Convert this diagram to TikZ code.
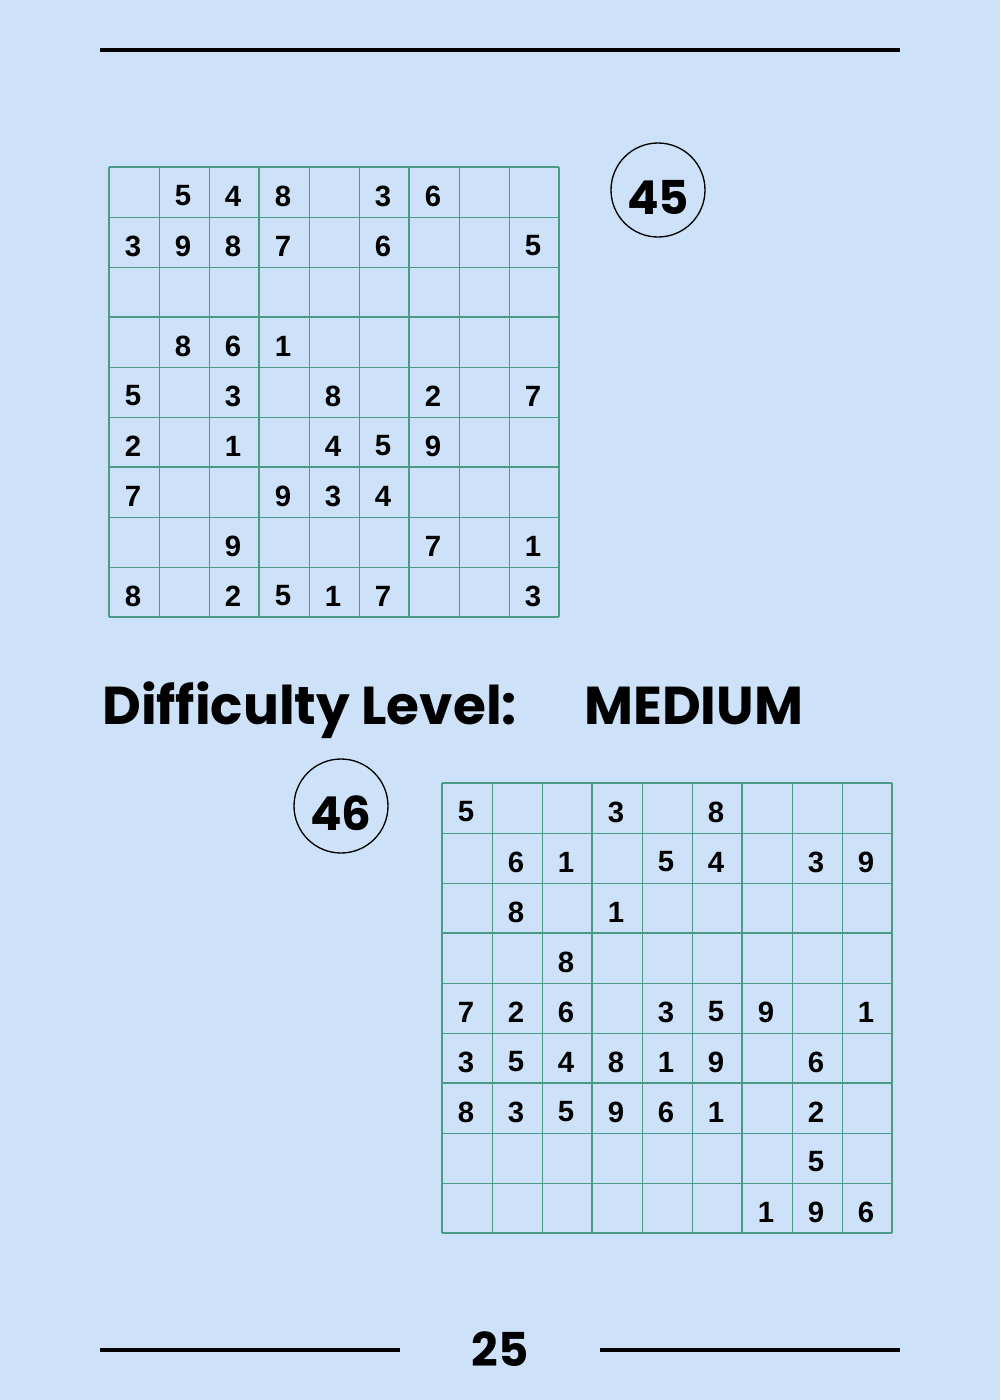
\documentclass[tikz,border=0pt]{standalone}
\usepackage{fontspec}
\newfontfamily\titlefont{Poppins}
\newfontfamily\digitfont{Liberation Sans}
\definecolor{bg}{RGB}{205,226,248}
\definecolor{gridc}{RGB}{76,154,138}
\tikzset{
  rule/.style={line width=3pt, black},
  thinline/.style={gridc, line width=0.75pt},
  thickline/.style={gridc, line width=1.5pt},
  digit/.style={inner sep=0pt, font=\digitfont\bfseries\fontsize{22}{22}\selectfont},
  numcircle/.style={draw, circle, line width=1pt, minimum size=70.5pt, inner sep=0pt},
  bignum/.style={inner sep=0pt, font=\titlefont\bfseries\fontsize{35}{35}\selectfont},
  title/.style={inner sep=0pt, anchor=base west, font=\titlefont\bfseries\fontsize{40}{40}\selectfont}
}
\newcommand\drawsudoku[4]{%
  \foreach \i in {0,...,9} {
    \pgfmathtruncatemacro\m{mod(\i,3)}
    \ifnum\m=0
      \draw[thickline] (#2+50*\i,#3) -- (#2+50*\i,#3+450);
      \draw[thickline] (#2,#3+50*\i) -- (#2+450,#3+50*\i);
    \else
      \draw[thinline] (#2+50*\i,#3) -- (#2+50*\i,#3+450);
      \draw[thinline] (#2,#3+50*\i) -- (#2+450,#3+50*\i);
    \fi
  }
  \foreach \rowdata [count=\r] in {#4} {
    \foreach \v [count=\c] in \rowdata {
      \ifnum\v>0
        \node[digit] (#1-\r-\c) at (#2+50*\c-26,#3+50*\r-21) {\v};
      \fi
    }
  }
}
\begin{document}
\begin{tikzpicture}[x=0.75pt,y=-0.75pt]
\fill[bg] (0,0) rectangle (1000,1400);
\useasboundingbox (0,0) rectangle (1000,1400);
% rules
\coordinate (ta) at (100,50); \coordinate (tb) at (900,50);
\draw[rule] (ta) -- (tb);
\coordinate (la) at (100,1350); \coordinate (lb) at (400,1350);
\coordinate (ra) at (600,1350); \coordinate (rb) at (900,1350);
\draw[rule] (la) -- (lb);
\draw[rule] (ra) -- (rb);
\node[bignum] (page) at (500,1349) {25};
% puzzle 45
\drawsudoku{a}{109}{167}{{0,5,4,8,0,3,6,0,0},{3,9,8,7,0,6,0,0,5},{0,0,0,0,0,0,0,0,0},{0,8,6,1,0,0,0,0,0},{5,0,3,0,8,0,2,0,7},{2,0,1,0,4,5,9,0,0},{7,0,0,9,3,4,0,0,0},{0,0,9,0,0,0,7,0,1},{8,0,2,5,1,7,0,0,3}}
\node[numcircle] (c45) at (658,190) {};
\node[bignum] (n45) at (658,197) {45};
% title
\node[title] (diff) at (102,724) {Difficulty Level:};
\node[title] (med) at (584,724) {MEDIUM};
% puzzle 46
\drawsudoku{b}{442}{783}{{5,0,0,3,0,8,0,0,0},{0,6,1,0,5,4,0,3,9},{0,8,0,1,0,0,0,0,0},{0,0,8,0,0,0,0,0,0},{7,2,6,0,3,5,9,0,1},{3,5,4,8,1,9,0,6,0},{8,3,5,9,6,1,0,2,0},{0,0,0,0,0,0,0,5,0},{0,0,0,0,0,0,1,9,6}}
\node[numcircle] (c46) at (341,806) {};
\node[bignum] (n46) at (341,813) {46};
\end{tikzpicture}
\end{document}
